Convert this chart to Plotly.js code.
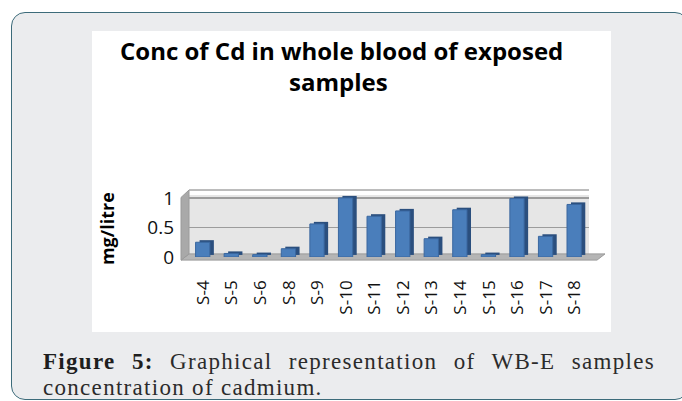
<!DOCTYPE html>
<html>
<head>
<meta charset="utf-8">
<script src="https://cdn.plot.ly/plotly-3.0.1.min.js"></script>
<style>
  html, body { margin:0; padding:0; background:#ffffff; width:682px; height:401px; overflow:hidden; }
  #panel { position:absolute; left:11px; top:12px; width:676px; height:386px; border:1.5px solid #3c6b7a; border-radius:14px; background:#ebecee; }
  #chart { position:absolute; left:92px; top:31px; width:519px; height:301px; background:#ffffff; }
  #caption { position:absolute; left:43px; top:349px; width:612px; font-family:"Liberation Serif","DejaVu Serif",serif; font-size:23px; line-height:26px; letter-spacing:1.3px; color:#2b2b2b; text-align:justify; text-align-last:left; }
  #caption .l1 { display:block; text-align:justify; text-align-last:justify; }
  #caption b { color:#1e1e1e; }
</style>
</head>
<body>
<div id="panel"></div>
<div id="chart"></div>
<div id="caption"><span class="l1"><b>Figure 5:</b> Graphical representation of WB-E samples</span>concentration of cadmium.</div>
<script>
const samples = ["S-4","S-5","S-6","S-8","S-9","S-10","S-11","S-12","S-13","S-14","S-15","S-16","S-17","S-18"];
const concMgL = [0.25, 0.06, 0.04, 0.14, 0.56, 1.0, 0.69, 0.78, 0.31, 0.80, 0.04, 0.99, 0.35, 0.89];
const yTickVals = [0, 0.5, 1];
const yTickText = ["0", "0.5", "1"];
const titleLine1 = "Conc of Cd in whole blood of exposed";
const titleLine2 = "samples";

const depth = {
  type: "bar", x: samples, y: concMgL, base: 0.035,
  width: 0.5, offset: -0.13,
  marker: { color: "#2b4f7e", line: { width: 0 } },
  hoverinfo: "skip", showlegend: false
};
const front = {
  type: "bar", x: samples, y: concMgL, base: 0,
  width: 0.5, offset: -0.27,
  marker: { color: "#4a7ebb", line: { color: "#3a679f", width: 1 } },
  showlegend: false
};

const titleFont = { family: "'Open Sans', Lato, sans-serif", size: 24, color: "#000000" };

const layout = {
  width: 519, height: 301,
  margin: { l: 97, r: 22, t: 164, b: 75, pad: 0 },
  paper_bgcolor: "#ffffff",
  plot_bgcolor: "#e6e6e6",
  barmode: "overlay",
  title: {
    text: "<b>" + titleLine1 + "</b>",
    font: titleFont,
    x: 0.481, xanchor: "center", y: 0.932, yanchor: "middle", yref: "container"
  },
  xaxis: {
    type: "category", tickangle: -90,
    tickfont: { family: "'Open Sans', Lato, sans-serif", size: 17, color: "#111111" },
    showgrid: false, zeroline: false, showline: false, ticks: "",
    ticklabelstandoff: 19, automargin: false
  },
  yaxis: {
    range: [0, 1.05], tickvals: yTickVals, ticktext: yTickText,
    tickfont: { family: "'Open Sans', Lato, sans-serif", size: 19, color: "#111111" },
    showgrid: true, gridcolor: "#9c9c9c", gridwidth: 1.5,
    zeroline: false, showline: false, ticks: "",
    ticklabelstandoff: 14, automargin: false
  },
  shapes: [
    { type: "path", xref: "paper", yref: "paper", layer: "below",
      path: "M -0.02 -0.05 L 1.02 -0.05 L 1.04 0.05 L 0 0.05 Z",
      fillcolor: "#b5b5b5", line: { color: "#9a9a9a", width: 1 } },
    { type: "path", xref: "paper", yref: "paper", layer: "below",
      path: "M -0.02 -0.05 L 0 0.05 L 0 1.08 L -0.02 0.96 Z",
      fillcolor: "#a9a9a9", line: { color: "#9a9a9a", width: 1 } },
    { type: "line", xref: "paper", yref: "paper", layer: "below",
      x0: 0, x1: 1.0, y0: 1.08, y1: 1.08, line: { color: "#a6a6a6", width: 1.5 } }
  ],
  annotations: [
    { text: "<b>" + titleLine2 + "</b>", xref: "paper", yref: "paper", x: 0.373, y: 2.83,
      xanchor: "center", yanchor: "middle", showarrow: false, font: titleFont },
    { text: "<b>mg/litre</b>", xref: "paper", yref: "paper", x: -0.205, y: 0.45,
      xanchor: "center", yanchor: "middle", textangle: -90, showarrow: false,
      font: { family: "'Open Sans', Lato, sans-serif", size: 18, color: "#000000" } }
  ]
};

Plotly.newPlot("chart", [depth, front], layout, { displayModeBar: false, staticPlot: true });
</script>
</body>
</html>
